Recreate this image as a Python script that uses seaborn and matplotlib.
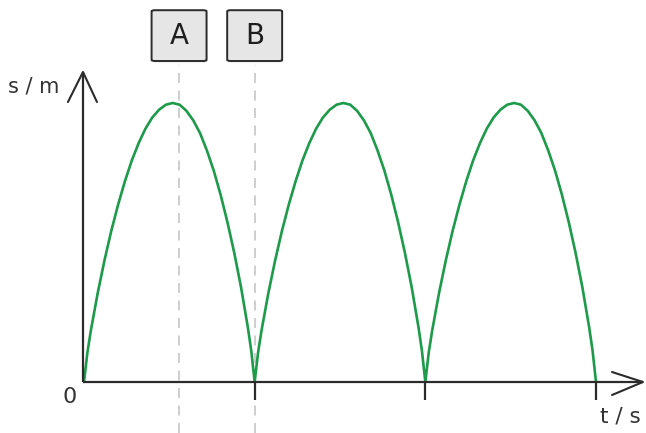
import numpy as np
import pandas as pd
import matplotlib
matplotlib.use("Agg")
import matplotlib.pyplot as plt
from matplotlib.patches import FancyBboxPatch
import seaborn as sns

# ---- data (t in s, s in m) ----
t_arch1 = [0.00, 0.02, 0.04, 0.08, 0.12, 0.16, 0.20, 0.24, 0.28, 0.32,
           0.36, 0.40, 0.44, 0.48, 0.52, 0.56, 0.60, 0.64, 0.68, 0.72,
           0.76, 0.80, 0.84, 0.88, 0.92, 0.96, 0.98]
t_arch2 = [1.00, 1.02, 1.04, 1.08, 1.12, 1.16, 1.20, 1.24, 1.28, 1.32,
           1.36, 1.40, 1.44, 1.48, 1.52, 1.56, 1.60, 1.64, 1.68, 1.72,
           1.76, 1.80, 1.84, 1.88, 1.92, 1.96, 1.98]
t_arch3 = [2.00, 2.02, 2.04, 2.08, 2.12, 2.16, 2.20, 2.24, 2.28, 2.32,
           2.36, 2.40, 2.44, 2.48, 2.52, 2.56, 2.60, 2.64, 2.68, 2.72,
           2.76, 2.80, 2.84, 2.88, 2.92, 2.96, 2.98]
s_arch = [0.00, 0.53, 0.92, 1.59, 2.18, 2.71, 3.18, 3.60, 3.97, 4.28,
          4.54, 4.74, 4.88, 4.97, 5.00, 4.97, 4.86, 4.69, 4.46, 4.15,
          3.79, 3.36, 2.87, 2.32, 1.70, 0.98, 0.56]
t_end = [3.00]
s_end = [0.00]

marker_labels = ["A", "B"]
marker_t = [0.557, 1.000]
tick_t = [1, 2, 3]

t_all = t_arch1 + t_arch2 + t_arch3 + t_end
s_all = s_arch + s_arch + s_arch + s_end
df = pd.DataFrame({"t": t_all, "s": s_all})

sns.set_theme(style="white")
fig = plt.figure(figsize=(6.46, 4.33), dpi=100)
ax = fig.add_axes([0, 0, 1, 1])
ax.set_xlim(-0.4922, 3.2930)
ax.set_ylim(-0.914, 6.846)
ax.set_axis_off()

ink = "#2b2b2b"
txt = "#333333"
green = "#1d9a4a"

# dashed marker lines and boxes
for lab, tm in zip(marker_labels, marker_t):
    ax.plot([tm, tm], [-0.914, 5.68], color="#c6c6c6", lw=1.2,
            dashes=(6, 4.5), zorder=1)
    shadow = FancyBboxPatch((tm - 0.156, 5.725), 0.322, 0.91,
                            boxstyle="round,pad=0,rounding_size=0.02",
                            fc="#d0d0d0", ec="none", alpha=0.6, zorder=2)
    ax.add_patch(shadow)
    box = FancyBboxPatch((tm - 0.161, 5.753), 0.322, 0.91,
                         boxstyle="round,pad=0,rounding_size=0.02",
                         fc="#e6e6e6", ec=ink, lw=1.4, zorder=3)
    ax.add_patch(box)
    ax.text(tm, 6.20, lab, ha="center", va="center", fontsize=20,
            color="#1e1e1e", zorder=4)

# curve
sns.lineplot(data=df, x="t", y="s", sort=False, estimator=None, ax=ax,
             color=green, lw=1.9, zorder=5)
ax.set_xlabel("")
ax.set_ylabel("")

# axes lines through the origin
ax.plot([-0.006, -0.006], [0, 5.556], color=ink, lw=1.6, zorder=6,
        solid_capstyle="butt")
ax.plot([-0.006, 3.275], [0, 0], color=ink, lw=1.6, zorder=6,
        solid_capstyle="butt")
ax.vlines(tick_t, -0.32, 0, color=ink, lw=1.6, zorder=6)

# arrow heads (open chevrons)
ax.plot([-0.094, -0.006, 0.076], [5.018, 5.556, 5.018], color=ink, lw=1.5,
        solid_capstyle="round", zorder=6)
ax.plot([3.094, 3.275, 3.094], [0.179, 0.0, -0.233], color=ink, lw=1.5,
        solid_capstyle="round", zorder=6)

# labels
ax.text(-0.293, 5.29, "s / m", ha="center", va="center", fontsize=15, color=txt)
ax.text(3.14, -0.61, "t / s", ha="center", va="center", fontsize=15.5, color=txt)
ax.text(-0.082, -0.27, "0", ha="center", va="center", fontsize=16, color=txt)

fig.savefig("out.png", dpi=100)
